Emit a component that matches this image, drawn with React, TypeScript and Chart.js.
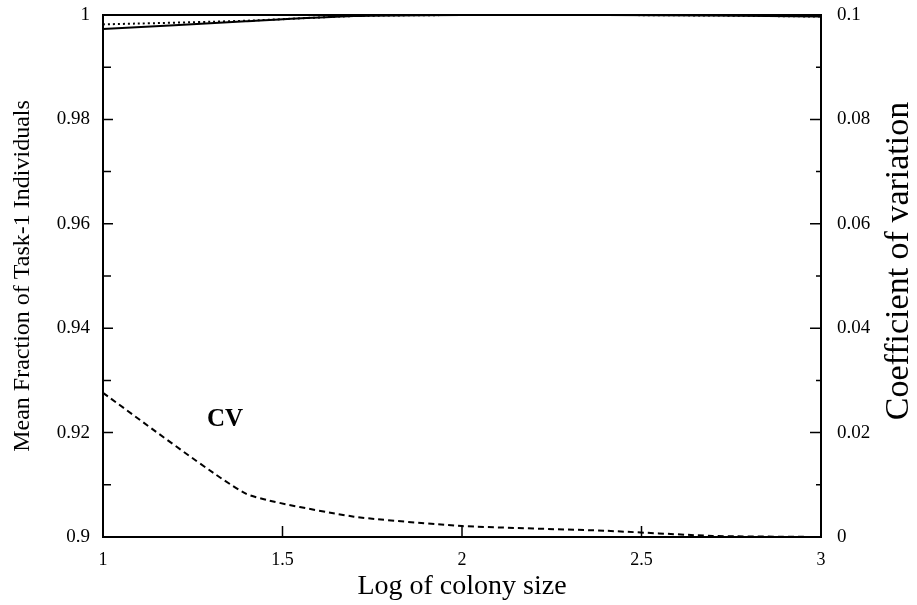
import { useEffect, useRef } from "react";
import { Chart, registerables } from "chart.js";

Chart.register(...registerables);

// Log10 of colony size and the measured series
const logSize = [1, 1.398, 1.699, 2, 2.398, 2.699, 3];
const meanFraction = [0.9973, 0.9988, 0.9998, 1.0, 1.0, 0.9999, 0.9997];
const meanFractionModel = [0.9982, 0.9989, 0.9998, 1.0, 1.0, 0.9999, 0.9997];
const coeffVariation = [0.0276, 0.0083, 0.0039, 0.0021, 0.0012, 0.0002, 0.0];

// Axis ticks
const xTicks = [1, 1.5, 2, 2.5, 3];
const xTickMarks = [1.5, 2, 2.5];
const leftTicks = [0.9, 0.92, 0.94, 0.96, 0.98, 1];
const leftMinor = [0.91, 0.93, 0.95, 0.97, 0.99];
const rightTicks = [0, 0.02, 0.04, 0.06, 0.08, 0.1];
const rightMinor = [0.01, 0.03, 0.05, 0.07, 0.09];

// Right-hand axis title (drawn reading upwards, like the left one)
const rightTitle = "Coefficient of variation";

// In-plot label for the CV curve (data coordinates)
const cvLabel = { text: "CV", x: 1.34, y: 0.0225 };

const FONT = "'Liberation Serif', 'Times New Roman', serif";

const fmt = (v: number) => String(Number(v.toFixed(3)));

const frameAndTicks = {
  id: "frameAndTicks",
  afterDraw(chart: any) {
    const { ctx, chartArea: a, scales } = chart;
    const sx = scales.x;
    const sl = scales.y;
    const sr = scales.y2;
    ctx.save();
    ctx.strokeStyle = "#000";
    ctx.lineWidth = 2;
    ctx.strokeRect(a.left, a.top, a.right - a.left, a.bottom - a.top);

    ctx.lineWidth = 1.5;
    ctx.beginPath();
    for (const v of leftTicks) {
      const py = sl.getPixelForValue(v);
      ctx.moveTo(a.left, py);
      ctx.lineTo(a.left + 10, py);
    }
    for (const v of leftMinor) {
      const py = sl.getPixelForValue(v);
      ctx.moveTo(a.left, py);
      ctx.lineTo(a.left + 8, py);
    }
    for (const v of rightTicks) {
      const py = sr.getPixelForValue(v);
      ctx.moveTo(a.right, py);
      ctx.lineTo(a.right - 11, py);
    }
    for (const v of rightMinor) {
      const py = sr.getPixelForValue(v);
      ctx.moveTo(a.right, py);
      ctx.lineTo(a.right - 5, py);
    }
    for (const v of xTickMarks) {
      const px = sx.getPixelForValue(v);
      ctx.moveTo(px, a.bottom);
      ctx.lineTo(px, a.bottom - 11);
    }
    ctx.stroke();

    ctx.fillStyle = "#000";
    ctx.font = `bold 25px ${FONT}`;
    ctx.textAlign = "center";
    ctx.textBaseline = "middle";
    ctx.fillText(
      cvLabel.text,
      sx.getPixelForValue(cvLabel.x),
      sr.getPixelForValue(cvLabel.y)
    );

    // right axis title, rotated to read bottom-to-top
    ctx.font = `34px ${FONT}`;
    ctx.translate(sr.right - 18, (a.top + a.bottom) / 2 - 15);
    ctx.rotate(-Math.PI / 2);
    ctx.fillText(rightTitle, 0, 0);
    ctx.restore();
  },
};

const noVerticalPadding = (s: any, width: number) => {
  s.width = width;
  s.paddingTop = 0;
  s.paddingBottom = 0;
};

export default function App() {
  const canvasRef = useRef<HTMLCanvasElement | null>(null);

  useEffect(() => {
    const canvas = canvasRef.current;
    if (!canvas) return;
    const chart = new Chart(canvas, {
      type: "line",
      data: {
        datasets: [
          {
            label: "Mean fraction",
            data: logSize.map((x, i) => ({ x, y: meanFraction[i] })),
            yAxisID: "y",
            borderColor: "#000",
            borderWidth: 2,
            pointRadius: 0,
            tension: 0.2,
            clip: 6,
          },
          {
            label: "Mean fraction (model)",
            data: logSize.map((x, i) => ({ x, y: meanFractionModel[i] })),
            yAxisID: "y",
            borderColor: "#000",
            borderWidth: 2,
            borderDash: [2, 3],
            pointRadius: 0,
            tension: 0.2,
            clip: 6,
          },
          {
            label: "CV",
            data: logSize.map((x, i) => ({ x, y: coeffVariation[i] })),
            yAxisID: "y2",
            borderColor: "#000",
            borderWidth: 2,
            borderDash: [6, 4],
            pointRadius: 0,
            tension: 0.15,
            clip: 6,
          },
        ],
      },
      options: {
        animation: false,
        responsive: true,
        maintainAspectRatio: false,
        layout: { padding: { top: 15, left: 0, right: 0, bottom: 0 } },
        plugins: {
          legend: { display: false },
          tooltip: { enabled: false },
        },
        scales: {
          x: {
            type: "linear",
            min: 1,
            max: 3,
            afterBuildTicks: (s: any) => {
              s.ticks = xTicks.map((value) => ({ value }));
            },
            afterFit: (s: any) => {
              s.height = 68;
            },
            grid: { display: false, drawTicks: false },
            border: { display: false },
            ticks: {
              color: "#000",
              padding: 12,
              maxRotation: 0,
              font: { family: FONT, size: 18 },
              callback: (v: any) => fmt(Number(v)),
            },
            title: {
              display: true,
              text: "Log of colony size",
              color: "#000",
              font: { family: FONT, size: 28 },
              padding: { top: 0, bottom: 2 },
            },
          },
          y: {
            type: "linear",
            position: "left",
            min: 0.9,
            max: 1,
            afterBuildTicks: (s: any) => {
              s.ticks = leftTicks.map((value) => ({ value }));
            },
            afterFit: (s: any) => noVerticalPadding(s, 103),
            grid: { display: false, drawTicks: false },
            border: { display: false },
            ticks: {
              color: "#000",
              padding: 13,
              font: { family: FONT, size: 19 },
              callback: (v: any) => fmt(Number(v)),
            },
            title: {
              display: true,
              text: "Mean Fraction of Task-1 Individuals",
              color: "#000",
              font: { family: FONT, size: 24 },
              padding: { top: 8, bottom: 0 },
            },
          },
          y2: {
            type: "linear",
            position: "right",
            min: 0,
            max: 0.1,
            afterBuildTicks: (s: any) => {
              s.ticks = rightTicks.map((value) => ({ value }));
            },
            afterFit: (s: any) => noVerticalPadding(s, 96),
            grid: { display: false, drawTicks: false },
            border: { display: false },
            ticks: {
              color: "#000",
              padding: 16,
              font: { family: FONT, size: 19 },
              callback: (v: any) => fmt(Number(v)),
            },
            title: { display: false },
          },
        },
      },
      plugins: [frameAndTicks],
    });
    return () => chart.destroy();
  }, []);

  return (
    <div
      style={{
        position: "fixed",
        left: 0,
        top: 0,
        width: 917,
        height: 605,
        background: "#fff",
      }}
    >
      <canvas ref={canvasRef} />
    </div>
  );
}
